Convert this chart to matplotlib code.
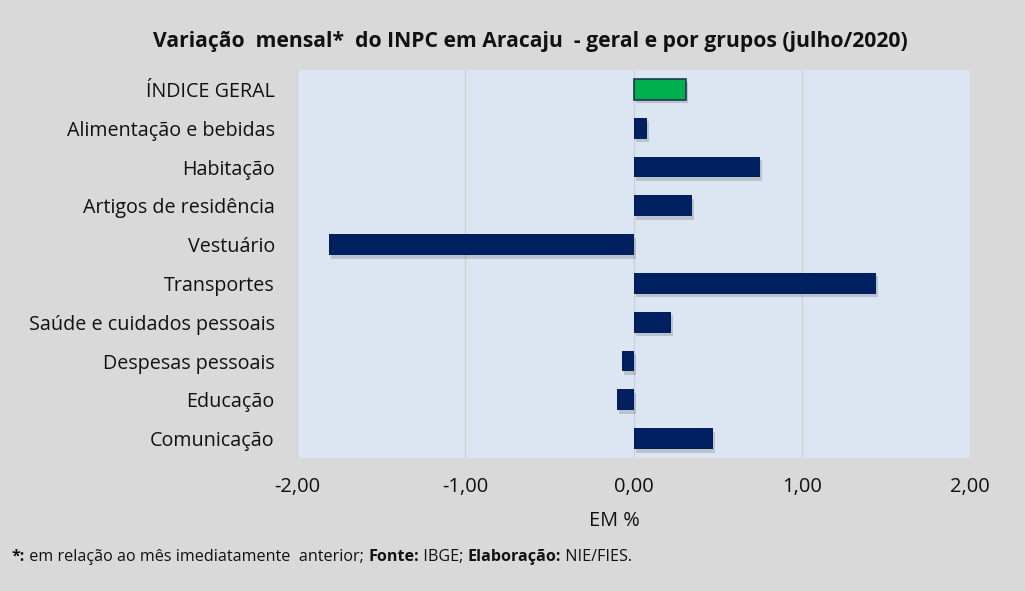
import matplotlib.pyplot as plt
import matplotlib.patheffects as pe

# Dados (variação mensal, %)
grupos = ['ÍNDICE GERAL', 'Alimentação e bebidas', 'Habitação', 'Artigos de residência',
          'Vestuário', 'Transportes', 'Saúde e cuidados pessoais', 'Despesas pessoais',
          'Educação', 'Comunicação']
variacao = [0.31, 0.08, 0.75, 0.35, -1.81, 1.44, 0.22, -0.07, -0.10, 0.47]
ticks_x = [-2, -1, 0, 1, 2]
ticks_lbl = ['-2,00', '-1,00', '0,00', '1,00', '2,00']

plt.rcParams['font.family'] = ['Open Sans', 'DejaVu Sans']

fig = plt.figure(figsize=(10.25, 5.91), dpi=100, facecolor='#d9d9d9')
ax = fig.add_axes([297 / 1025, 1 - 458 / 591, (970 - 297) / 1025, (458 - 70) / 591])
ax.set_facecolor('#dce6f2')

cores = ['#00b050'] + ['#002060'] * (len(grupos) - 1)
pos = list(range(len(grupos)))
bars = ax.barh(pos, variacao, height=0.54, color=cores, zorder=3)
bars[0].set_edgecolor('#1f3a4d')
bars[0].set_linewidth(1.2)
for b in bars:
    b.set_path_effects([pe.SimplePatchShadow(offset=(1.5, -2.5), alpha=0.2, shadow_rgbFace='#333333'),
                        pe.Normal()])

ax.set_xlim(-2, 2)
ax.set_ylim(len(grupos) - 0.5, -0.5)
ax.set_yticks(pos)
ax.set_yticklabels(grupos, fontsize=14.2, color='#111111')
ax.set_xticks(ticks_x)
ax.set_xticklabels(ticks_lbl, fontsize=14.5, color='#111111')
ax.tick_params(length=0, pad=16, axis='y')
ax.tick_params(length=0, pad=14, axis='x')
ax.grid(axis='x', color='#cdd1d6', linewidth=1.0, zorder=0)
for s in ax.spines.values():
    s.set_visible(False)

fig.text(530 / 1025, 1 - 42 / 591, 'Variação  mensal*  do INPC em Aracaju  - geral e por grupos (julho/2020)',
         ha='center', va='center', fontsize=15.2, fontweight='bold', color='#111111')
fig.text(614 / 1025, 1 - 521 / 591, 'EM %', ha='center', va='center', fontsize=14.3, color='#111111')

# rodapé com partes em negrito
partes = [('*:', 'bold'), (' em relação ao mês imediatamente  anterior; ', 'normal'),
          ('Fonte:', 'bold'), (' IBGE; ', 'normal'), ('Elaboração:', 'bold'), (' NIE/FIES.', 'normal')]
fig.canvas.draw()
r = fig.canvas.get_renderer()
x = 12
for txt, peso in partes:
    t = fig.text(x / 1025, 1 - 557 / 591, txt, ha='left', va='center', fontsize=11.6,
                 fontweight=peso, color='#111111')
    x += t.get_window_extent(renderer=r).width

fig.savefig('out.png', dpi=100, facecolor=fig.get_facecolor())
